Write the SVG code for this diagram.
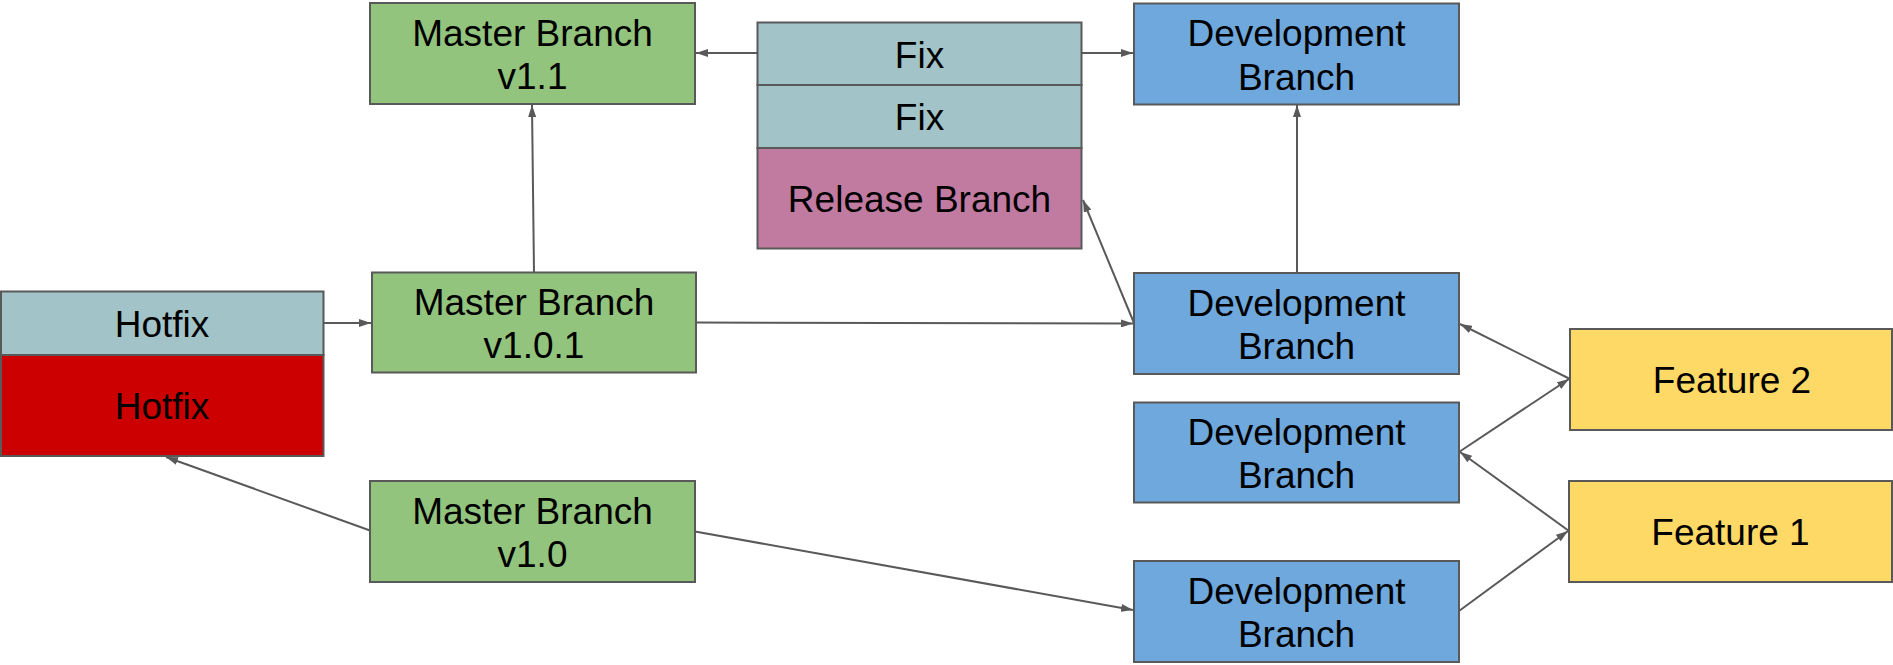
<svg xmlns="http://www.w3.org/2000/svg" width="1893" height="665" viewBox="0 0 1893 665">
<style>
  rect { stroke: #595959; stroke-width: 2; }
  .green { fill: #93c47d; }
  .blue { fill: #6fa8dc; }
  .teal { fill: #a2c4c9; }
  .pink { fill: #c27ba0; }
  .red { fill: #cc0000; }
  .yellow { fill: #ffd966; }
  text { font-family: "Liberation Sans", Arial, sans-serif; font-size: 37px; fill: #000; text-anchor: middle; }
  .conn line { stroke: #595959; stroke-width: 2; fill: none; marker-end: url(#arrow); }
</style>
<defs>
  <marker id="arrow" markerUnits="userSpaceOnUse" markerWidth="12" markerHeight="8" refX="12" refY="4" orient="auto">
    <path d="M0,0 L12,4 L0,8 z" fill="#595959"/>
  </marker>
</defs>
<rect width="1893" height="665" fill="#ffffff" stroke="none" style="stroke:none"/>

<g id="master-v1-1">
  <rect class="green" x="370" y="3" width="325" height="101"/>
  <text x="532.5" y="45.5">Master Branch</text>
  <text x="532.5" y="89">v1.1</text>
</g>

<g id="release-stack">
  <rect class="teal" x="757.5" y="22.5" width="324" height="62.5"/>
  <text x="919.5" y="67.5">Fix</text>
  <rect class="teal" x="757.5" y="85" width="324" height="63"/>
  <text x="919.5" y="130">Fix</text>
  <rect class="pink" x="757.5" y="148" width="324" height="100.5"/>
  <text x="919.5" y="212">Release Branch</text>
</g>

<g id="dev-top">
  <rect class="blue" x="1134" y="3.5" width="325" height="101"/>
  <text x="1296.5" y="46">Development</text>
  <text x="1296.5" y="89.5">Branch</text>
</g>

<g id="hotfix-stack">
  <rect class="teal" x="1" y="291.5" width="322.5" height="63.5"/>
  <text x="162" y="336.5">Hotfix</text>
  <rect class="red" x="1" y="355" width="322.5" height="101"/>
  <text x="162" y="419">Hotfix</text>
</g>

<g id="master-v1-0-1">
  <rect class="green" x="372" y="272.5" width="324" height="100"/>
  <text x="534" y="314.5">Master Branch</text>
  <text x="534" y="358">v1.0.1</text>
</g>

<g id="master-v1-0">
  <rect class="green" x="370" y="481" width="325" height="101"/>
  <text x="532.5" y="523.5">Master Branch</text>
  <text x="532.5" y="567">v1.0</text>
</g>

<g id="dev-2">
  <rect class="blue" x="1134" y="273" width="325" height="101"/>
  <text x="1296.5" y="315.5">Development</text>
  <text x="1296.5" y="359">Branch</text>
</g>

<g id="dev-3">
  <rect class="blue" x="1134" y="402.5" width="325" height="100"/>
  <text x="1296.5" y="444.5">Development</text>
  <text x="1296.5" y="488">Branch</text>
</g>

<g id="dev-4">
  <rect class="blue" x="1134" y="561" width="325" height="101"/>
  <text x="1296.5" y="603.5">Development</text>
  <text x="1296.5" y="647">Branch</text>
</g>

<g id="feature-2">
  <rect class="yellow" x="1570" y="329" width="322" height="101"/>
  <text x="1732" y="392.5">Feature 2</text>
</g>

<g id="feature-1">
  <rect class="yellow" x="1569" y="481" width="323" height="101"/>
  <text x="1730.5" y="544.5">Feature 1</text>
</g>

<g id="connectors" class="conn">
  <line x1="757" y1="53" x2="696" y2="53"/>
  <line x1="1082" y1="53" x2="1133" y2="53"/>
  <line x1="534" y1="272" x2="532" y2="105"/>
  <line x1="323" y1="323" x2="371" y2="323"/>
  <line x1="696" y1="322.5" x2="1133" y2="323.5"/>
  <line x1="1134" y1="323" x2="1083" y2="200"/>
  <line x1="1297" y1="273" x2="1297" y2="105"/>
  <line x1="1570" y1="379" x2="1460" y2="324"/>
  <line x1="1459" y1="452" x2="1569" y2="379"/>
  <line x1="1569" y1="531" x2="1460" y2="452"/>
  <line x1="1459" y1="611" x2="1568" y2="531"/>
  <line x1="695" y1="531.5" x2="1133" y2="610"/>
  <line x1="370" y1="530.5" x2="166" y2="457"/>
</g>
</svg>
